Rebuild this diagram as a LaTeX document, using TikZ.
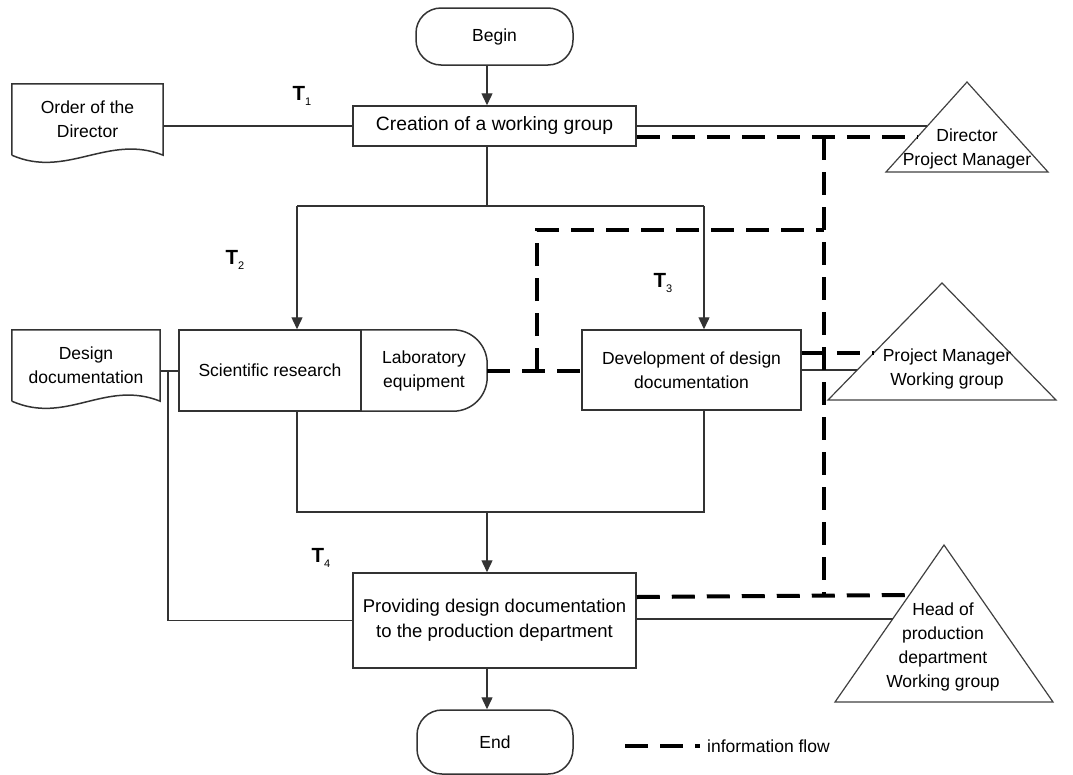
\documentclass[tikz,border=0pt]{standalone}
\usepackage{fontspec}
\setmainfont{Liberation Sans}
\usetikzlibrary{arrows.meta,calc}
\newcommand\Tlab[1]{\textbf{T}\raisebox{-0.5ex}{\fontsize{11}{11}\selectfont #1}}
\begin{document}
\begin{tikzpicture}[x=1pt,y=-1pt,
  every node/.style={font=\fontsize{17.5}{24}\selectfont, inner sep=0pt, align=center},
  box/.style={draw=black!80, line width=1.5pt, fill=white},
  term/.style={box, rounded corners=25pt},
  docshape/.style={draw=black!80, line width=1.5pt},
  conn/.style={draw=black!80, line width=1.4pt},
  arr/.style={conn, -{Triangle[length=12pt,width=11pt]}},
  info/.style={draw=black, line width=4pt, dash pattern=on 23pt off 12pt},
  tri/.style={draw=black!75, line width=1.2pt},
  tlabel/.style={font=\fontsize{20.5}{22}\selectfont}]
\useasboundingbox (0,0) rectangle (1073,774);

% axis coordinates
\coordinate (ax) at (487,0);
\coordinate (lx) at (297,0);
\coordinate (rx) at (704,0);
\coordinate (split) at (487,206);
\coordinate (join) at (487,512);
\coordinate (dd) at (168,371);
\coordinate (vx) at (824,0);

% nodes
\node[term, minimum width=157pt, minimum height=57pt] (begin) at (494.5,36.5) {Begin};
\node[box, minimum width=283pt, minimum height=40pt, font=\fontsize{19.3}{24}\selectfont] (create) at (494.5,126) {Creation of a working group};
\node[minimum width=151pt, minimum height=71pt] (order) at (87.5,119.5) {Order of the\\Director};
\node[minimum width=148pt, minimum height=71pt] (design) at (86,365.5) {Design\\documentation};
\node[box, minimum width=182pt, minimum height=81pt] (sci) at (270,370.5) {Scientific research};
\node[minimum width=126pt, minimum height=81pt] (lab) at (424,370.5) {Laboratory\\equipment};
\node[box, minimum width=219pt, minimum height=80pt] (dev) at (691.5,370) {Development of design\\documentation};
\node[box, minimum width=283pt, minimum height=95pt, font=\fontsize{18.5}{25}\selectfont] (prov) at (494.5,620.5) {Providing design documentation\\to the production department};
\node[term, minimum width=156pt, minimum height=64pt] (end) at (495,742) {End};

% document shapes
\draw[docshape] (order.south west) -- (order.north west) -- (order.north east) -- (order.south east)
  .. controls ($(order.south east)+(-55,-22)$) and ($(order.south west)+(55,24)$) .. (order.south west);
\draw[docshape] (design.south west) -- (design.north west) -- (design.north east) -- (design.south east)
  .. controls ($(design.south east)+(-55,-22)$) and ($(design.south west)+(55,24)$) .. (design.south west);
% lab equipment shape
\draw[box, fill=none, rounded corners=34pt] (lab.north west) -- (lab.north east) -- (lab.south east) -- (lab.south west);

% triangles
\coordinate (dA) at (967,82);  \coordinate (dL) at (886,172);  \coordinate (dR) at (1048,172);
\coordinate (pA) at (942,283); \coordinate (pL) at (828,400);  \coordinate (pR) at (1056,400);
\coordinate (hA) at (944,545); \coordinate (hL) at (835,702);  \coordinate (hR) at (1053,702);
\draw[tri] (dA) -- (dR) -- (dL) -- cycle;
\draw[tri] (pA) -- (pR) -- (pL) -- cycle;
\draw[tri] (hA) -- (hR) -- (hL) -- cycle;
\node (dirT) at (967,149) {Director\\Project Manager};
\node (pmT) at (947,368.5) {Project Manager\\Working group};
\node (headT) at (943,647) {Head of\\production\\department\\Working group};

% edge points on triangles
\coordinate (dS) at (927,126);
\coordinate (dD) at (917,137);
\coordinate (pD) at (874,353);
\coordinate (pS) at (857,370);
\coordinate (hD) at (910,595);
\coordinate (hS) at (893,619);

% T labels
\node[tlabel] (t1) at (302,96) {\Tlab{1}};
\node[tlabel] (t2) at (235,260) {\Tlab{2}};
\node[tlabel] (t3) at (663,283) {\Tlab{3}};
\node[tlabel] (t4) at (321,558) {\Tlab{4}};

% solid flow connectors
\draw[arr] (begin.south -| ax) -- (create.north -| ax);
\draw[conn] (create.west -| order.east) -- (create.west);
\draw[conn] (create.south -| ax) -- (split);
\draw[conn] (split -| lx) -- (split -| rx);
\draw[arr] (split -| lx) -- (sci.north -| lx);
\draw[arr] (split -| rx) -- (dev.north -| rx);
\draw[conn] (sci.south -| lx) -- (join -| lx) -- (join -| rx) -- (dev.south -| rx);
\draw[arr] (join) -- (prov.north -| ax);
\draw[arr] (prov.south -| ax) -- (end.north -| ax);
\draw[conn] (design.east |- dd) -- (sci.west |- dd);
\draw[conn] (dd) -- (dd |- prov.west) -- (prov.west);
\draw[conn] (create.east) -- (dS);
\draw[conn] (dev.east |- pS) -- (pS);
\draw[conn] (prov.east |- hS) -- (hS);

% information flow
\draw[info] (create.east |- dD) -- (dD);
\draw[info] (vx |- dD) -- (vx |- hD);
\draw[info] (lab.east |- dd) -- (dev.west |- dd);
\draw[info] (537,371) -- (537,230) -- (vx |- 0,230);
\draw[info] (dev.east |- pD) -- (pD);
\draw[info] (prov.east |- 0,597) -- (hD);

% legend
\coordinate (lg1) at (625,746);
\coordinate (lg2) at (700,746);
\draw[info] (lg1) -- (lg2);
\node[anchor=west] (legend) at (707,746) {information flow};
\end{tikzpicture}
\end{document}
